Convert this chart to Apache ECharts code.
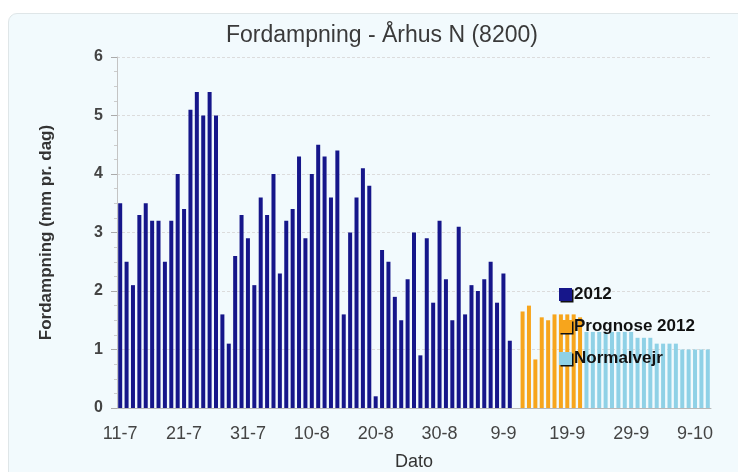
<!DOCTYPE html>
<html>
<head>
<meta charset="utf-8">
<script src="https://cdn.jsdelivr.net/npm/echarts@6/dist/echarts.min.js"></script>
<style>
  html, body { margin: 0; padding: 0; background: #fff; }
  .panel {
    position: absolute; left: 8px; top: 13px; width: 740px; height: 470px;
    background: #f2fafd; border: 1px solid #dfe6e8; border-radius: 9px;
  }
  #chart { position: absolute; left: 0; top: 0; width: 738px; height: 472px; }
</style>
</head>
<body>
<div class="panel"></div>
<div id="chart"></div>
<script>
// dates 11-7 .. 11-10, one per day
const days = [
  '11-7', '12-7', '13-7', '14-7', '15-7', '16-7', '17-7', '18-7', '19-7', '20-7',
  '21-7', '22-7', '23-7', '24-7', '25-7', '26-7', '27-7', '28-7', '29-7', '30-7',
  '31-7', '1-8', '2-8', '3-8', '4-8', '5-8', '6-8', '7-8', '8-8', '9-8',
  '10-8', '11-8', '12-8', '13-8', '14-8', '15-8', '16-8', '17-8', '18-8', '19-8',
  '20-8', '21-8', '22-8', '23-8', '24-8', '25-8', '26-8', '27-8', '28-8', '29-8',
  '30-8', '31-8', '1-9', '2-9', '3-9', '4-9', '5-9', '6-9', '7-9', '8-9',
  '9-9', '10-9', '11-9', '12-9', '13-9', '14-9', '15-9', '16-9', '17-9', '18-9',
  '19-9', '20-9', '21-9', '22-9', '23-9', '24-9', '25-9', '26-9', '27-9', '28-9',
  '29-9', '30-9', '1-10', '2-10', '3-10', '4-10', '5-10', '6-10', '7-10', '8-10',
  '9-10', '10-10', '11-10',
];

// measured 2012, 11-7 .. 10-9
const obs2012 = [
  3.5, 2.5, 2.1, 3.3, 3.5, 3.2, 3.2, 2.5, 3.2, 4.0,
  3.4, 5.1, 5.4, 5.0, 5.4, 5.0, 1.6, 1.1, 2.6, 3.3,
  2.9, 2.1, 3.6, 3.3, 4.0, 2.3, 3.2, 3.4, 4.3, 2.9,
  4.0, 4.5, 4.3, 3.6, 4.4, 1.6, 3.0, 3.6, 4.1, 3.8,
  0.2, 2.7, 2.5, 1.9, 1.5, 2.2, 3.0, 0.9, 2.9, 1.8,
  3.2, 2.2, 1.5, 3.1, 1.6, 2.1, 2.0, 2.2, 2.5, 1.8,
  2.3, 1.15,
];
// forecast, 12-9 .. 21-9
const prognose = [1.65, 1.75, 0.83, 1.55, 1.5, 1.6, 1.6, 1.6, 1.6, 1.55];
// normal weather, 22-9 .. 11-10
const normal = [
  1.3, 1.3, 1.3, 1.3, 1.3, 1.3, 1.3, 1.3, 1.2, 1.2,
  1.2, 1.1, 1.1, 1.1, 1.1, 1.0, 1.0, 1.0, 1.0, 1.0,
];

const place = (vals, from) => days.map((d, i) => {
  const k = i - from;
  return k >= 0 && k < vals.length ? vals[k] : null;
});

const sans = "'Liberation Sans', Arial, sans-serif";

const chart = echarts.init(document.getElementById('chart'));
chart.setOption({
  animation: false,
  title: {
    text: 'Fordampning - Århus N (8200)',
    left: 221,
    top: 19,
    textStyle: { fontFamily: sans, fontSize: 23, fontWeight: 'normal', color: '#3a3a3a' },
  },
  legend: {
    orient: 'vertical',
    left: 554,
    top: 281,
    itemWidth: 13,
    itemHeight: 13,
    itemGap: 15,
    icon: 'rect',
    itemStyle: { shadowColor: '#111', shadowOffsetX: 1.5, shadowOffsetY: 1.5, shadowBlur: 0 },
    textStyle: { fontFamily: sans, fontSize: 17, fontWeight: 'bold', color: '#111', padding: [0, 0, 0, -3] },
  },
  grid: { left: 117, right: 27, top: 57, bottom: 64, outerBoundsMode: 'none' },
  xAxis: {
    type: 'category',
    data: days,
    name: 'Dato',
    nameLocation: 'middle',
    nameGap: 45,
    nameTextStyle: { fontFamily: sans, fontSize: 18, color: '#333' },
    axisLine: { lineStyle: { color: '#b8b8b8' } },
    axisTick: {
      alignWithLabel: true,
      interval: (i) => i % 10 === 0 || i === days.length - 1,
      length: 5,
      lineStyle: { color: '#999' },
    },
    axisLabel: {
      interval: 9,
      margin: 17,
      fontFamily: sans,
      fontSize: 18,
      color: '#444',
    },
  },
  yAxis: {
    type: 'value',
    min: 0,
    max: 6,
    interval: 1,
    name: 'Fordampning (mm pr. dag)',
    nameLocation: 'middle',
    nameGap: 62,
    nameTextStyle: { fontFamily: sans, fontSize: 17, fontWeight: 'bold', color: '#333' },
    axisLine: { show: true, lineStyle: { color: '#c4c4c4' } },
    axisTick: { show: true, length: 6, lineStyle: { color: '#aaa' } },
    minorTick: { show: true, splitNumber: 4, length: 3, lineStyle: { color: '#ccc' } },
    axisLabel: { margin: 14, fontFamily: sans, fontSize: 16, fontWeight: 'bold', color: '#444' },
    splitLine: { lineStyle: { color: '#dcdcdc', type: [3, 2] } },
  },
  series: [
    {
      name: '2012', type: 'bar', barWidth: 4, barGap: '-100%',
      itemStyle: { color: '#16168a' },
      data: place(obs2012, 0),
    },
    {
      name: 'Prognose 2012', type: 'bar', barWidth: 4, barGap: '-100%',
      itemStyle: { color: '#f7a51c' },
      data: place(prognose, 63),
    },
    {
      name: 'Normalvejr', type: 'bar', barWidth: 4, barGap: '-100%',
      itemStyle: { color: '#8fd1e6' },
      data: place(normal, 73),
    },
  ],
});
</script>
</body>
</html>
